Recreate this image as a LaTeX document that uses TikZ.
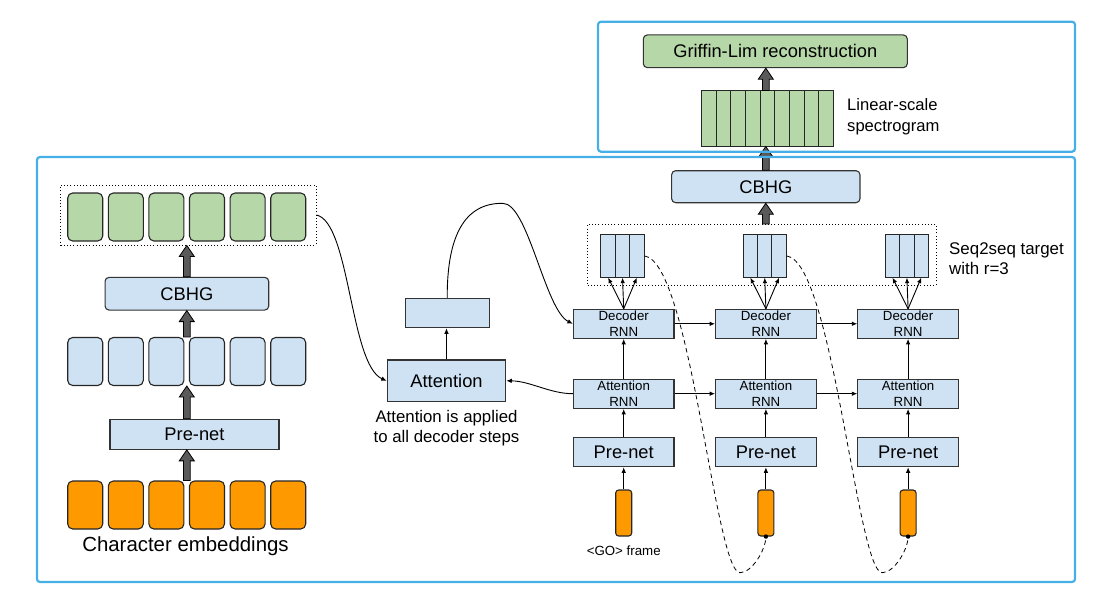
\documentclass[tikz,border=0pt]{standalone}
\usepackage{fontspec}
\setmainfont{Liberation Sans}
\usetikzlibrary{arrows.meta,calc}

\definecolor{boxblue}{HTML}{CFE2F3}
\definecolor{cellgreen}{HTML}{B6D7A8}
\definecolor{cellorange}{HTML}{FF9900}
\definecolor{framecyan}{RGB}{70,176,230}
\definecolor{arrowgray}{HTML}{5A5A5A}

% fat gray arrow, straight up from #1 to #2
\newcommand{\fatarrow}[2]{%
  \draw[line width=0.8pt, fill=arrowgray] let \p1=(#1), \p2=(#2) in
    (\x1-3.4pt,\y1) -- (\x1-3.4pt,\y2-11pt) -- (\x1-7.5pt,\y2-11pt) -- (\x1,\y2)
    -- (\x1+7.5pt,\y2-11pt) -- (\x1+3.4pt,\y2-11pt) -- (\x1+3.4pt,\y1) -- cycle;}

\begin{document}
\begin{tikzpicture}[x=1pt, y=-1pt,
    box/.style={draw=black!80, line width=1.1pt, fill=boxblue, inner sep=0pt},
    rbox/.style={box, rounded corners=4pt},
    cell/.style={draw=black!85, line width=1.1pt, rounded corners=5pt, minimum width=35pt, minimum height=48pt, inner sep=0pt},
    frm/.style={draw=black!85, line width=1pt, fill=boxblue, minimum width=14.4pt, minimum height=42.3pt, inner sep=0pt},
    dotbox/.style={draw=black, line width=0.9pt, dash pattern=on 0.9pt off 2.3pt, inner sep=0pt},
    frame/.style={draw=framecyan, line width=2.2pt, rounded corners=3pt},
    arr/.style={-{Latex[length=5.5pt,width=4.5pt]}, line width=0.9pt},
    big/.style={font=\fontsize{18.3}{22}\selectfont},
    small/.style={font=\fontsize{13.3}{16.7}\selectfont, align=center},
    note/.style={font=\fontsize{16.8}{20.3}\selectfont, align=left, inner sep=0pt}
  ]
    \useasboundingbox (0,0) rectangle (1105,607);

    % Encoder column
    \coordinate (encaxis) at (186.8,0);
    \foreach \i in {1,...,6} {
        \node[cell, fill=cellgreen] (out\i) at ({44.6+40.6*\i},217) {};
        \node[cell, fill=boxblue] (hid\i) at ({44.6+40.6*\i},361.5) {};
        \node[cell, fill=cellorange] (emb\i) at ({44.6+40.6*\i},505) {};
    }
    \node[dotbox, minimum width=255.3pt, minimum height=60pt] (encbox) at (188.3,215) {};
    \node[rbox, big, minimum width=163.7pt, minimum height=32.7pt] (cbhgL) at (186.9,293.7) {CBHG};
    \node[box, big, minimum width=169pt, minimum height=30pt] (prenetL) at (194.5,434.3) {Pre-net};

    % Label for embeddings
    \node[anchor=base, font=\fontsize{20.4}{24}\selectfont] (embtxt) at (185.5,551.7) {Character embeddings};

    \fatarrow{cbhgL.north -| encaxis}{encbox.south}
    \fatarrow{hid1.north -| encaxis}{cbhgL.south}
    \fatarrow{prenetL.north -| encaxis}{hid1.south}
    \fatarrow{emb1.north -| encaxis}{prenetL.south}

    % Attention
    \node[box, big, minimum width=118.4pt, minimum height=41.7pt] (attn) at (446.5,380.8) {Attention};
    \node[box, minimum width=84.3pt, minimum height=29.4pt] (ctx) at (447.2,313) {};
    \node[note, align=center, anchor=north] (attntxt) at ([yshift=-7.5pt]attn.south) {Attention is applied\\to all decoder steps};
    \draw[arr] (attn.north) -- (attn.north |- ctx.south);

    % Decoder steps
    \foreach \c in {1,2,3} {
        \pgfmathsetmacro\cx{623.7+142.2*(\c-1)}
        \node[box, small, minimum width=100.5pt, minimum height=29pt] (dec\c) at (\cx,323.8) {Decoder\\RNN};
        \node[box, small, minimum width=100.5pt, minimum height=29.3pt] (arnn\c) at (\cx,393.7) {Attention\\RNN};
        \node[box, big, minimum width=100.5pt, minimum height=29.4pt] (pre\c) at (\cx,452) {Pre-net};
        \node[draw=black!85, line width=1.1pt, fill=cellorange, rounded corners=3pt, minimum width=16pt, minimum height=46pt, inner sep=0pt] (go\c) at (\cx,513) {};
        \foreach \k in {1,2,3}
            \node[frm] (st\c\k) at ({\cx-1.2+14.4*(\k-2)},256) {};
        \draw[arr] (go\c) -- (pre\c);
        \draw[arr] (pre\c) -- (arnn\c);
        \draw[arr] (arnn\c) -- (dec\c);
        \foreach \k in {1,2,3}
            \draw[arr] (dec\c.north) -- (st\c\k.south);
    }
    \foreach \c/\n in {1/2,2/3} {
        \draw[arr] (dec\c) -- (dec\n);
        \draw[arr] (arnn\c) -- (arnn\n);
    }
    \node[small, anchor=north] (gotxt) at ([yshift=-6pt]go1.south) {<GO> frame};

    % Seq2seq targets
    \node[dotbox, minimum width=348.3pt, minimum height=60.7pt] (decbox) at (761.8,254.7) {};
    \node[note, font=\fontsize{16.9}{20}\selectfont, anchor=west] (seqtxt) at (949,259) {Seq2seq target\\with r=3};

    % Post-processing net
    \node[rbox, big, minimum width=188.3pt, minimum height=32pt] (cbhgR) at (765.8,186.7) {CBHG};
    \foreach \k in {1,...,9}
        \node[draw=black!85, line width=1pt, fill=cellgreen, minimum width=14.62pt, minimum height=55pt, inner sep=0pt] (sp\k) at ({694.39+14.62*\k},118.5) {};
    \node[note, font=\fontsize{16.6}{20.7}\selectfont, anchor=west] (spectxt) at (847,116.5) {Linear-scale\\spectrogram};
    \node[rbox, big, fill=cellgreen, minimum width=264pt, minimum height=32.7pt] (griffin) at (775.3,51.3) {Griffin-Lim reconstruction};

    \fatarrow{decbox.north -| cbhgR}{cbhgR.south}
    \fatarrow{cbhgR.north}{sp5.south}
    \fatarrow{sp5.north -| cbhgR}{griffin.south}

    % Curved connectors
    \draw[arr] (encbox.east) .. controls (350,222) and (350,365) .. (attn.west);
    \draw[arr] (ctx.north) .. controls (447,235) and (465,203) .. (502.7,203.3)
        .. controls (528,203) and (545,310) .. (dec1.west);
    \draw[arr] (arnn1.west) .. controls (550,393.7) and (530,381) .. (attn.east);

    % Feedback of last frame
    \foreach \c/\n/\d in {1/2/740, 2/3/882.2} {
        \draw[line width=0.8pt, dash pattern=on 4.5pt off 3.5pt] (st\c3.east) .. controls +(46,6) and +(-25,0) .. (\d,572.7)
            .. controls +(12,0) and +(0,13) .. (go\n.south);
        \fill (go\n.south) circle (2.2pt);
    }

    % Frames
    \draw[frame] (37,157) rectangle (1075,582);
    \draw[frame] (598,21.7) rectangle (1075,151.7);
\end{tikzpicture}
\end{document}
